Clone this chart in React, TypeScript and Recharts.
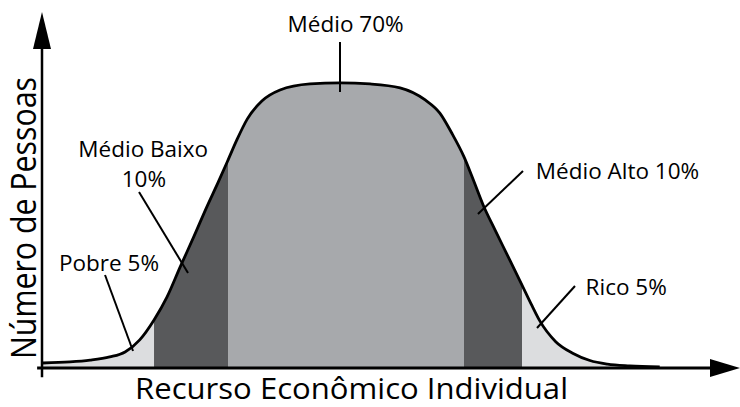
import React from "react";
import {
  ComposedChart,
  Area,
  Line,
  XAxis,
  YAxis,
  ReferenceLine,
  ReferenceDot,
} from "recharts";

// Curve samples: economic resource (x) vs. number of people (y)
const resourceLevel = [
  0.1, 4.0, 6.9, 9.7, 11.9, 14.0, 16.05, 17.9, 19.8, 21.8, 23.6, 25.2, 26.65,
  27.9, 29.4, 31.5, 34.1, 38.4, 42.7, 47.0, 51.3, 54.9, 57.0, 58.7, 60.46,
  61.9, 63.2, 64.9, 66.6, 68.77, 70.2, 71.3, 73.6, 76.1, 78.5, 81.0, 84.2, 88.5,
];
const peopleCount = [
  1.4, 1.7, 2.2, 3.1, 4.5, 7.9, 13.5, 19.9, 28.4, 37.1, 45.2, 52.0, 58.4,
  64.0, 69.9, 75.0, 78.1, 79.8, 80.1, 79.8, 78.7, 75.3, 71.6, 66.0, 59.3,
  52.3, 45.8, 38.8, 32.0, 23.3, 17.5, 13.3, 7.4, 4.1, 2.1, 1.1, 0.6, 0.3,
];
// Class boundaries on the resource axis
const classBounds = [16.05, 26.65, 60.46, 68.77];
const classKeys = ["pobre", "baixo", "medio", "alto", "rico"];
const classColors = ["#dcdddf", "#58595b", "#a7a9ac", "#58595b", "#dcdddf"];

// Annotation texts and anchors (data coordinates)
const labelTexts = ["Médio 70%", "Médio Baixo", "10%", "Pobre 5%", "Médio Alto 10%", "Rico 5%"];
const labelX = [43.5, 14.5, 14.6, 9.6, 82.45, 83.7];
const labelY = [94.4, 59.3, 50.8, 27.25, 53.1, 20.5];
// Leader lines
const leaderX1 = [42.69, 13.9, 9.03, 68.91, 76.36];
const leaderY1 = [91.57, 49.44, 26.12, 55.34, 23.03];
const leaderX2 = [42.69, 20.92, 13.04, 62.46, 70.92];
const leaderY2 = [77.53, 26.69, 4.78, 43.26, 11.24];

const xTitle = "Recurso Econômico Individual";
const yTitle = "Número de Pessoas";

const data = resourceLevel.map((x, i) => {
  const y = peopleCount[i];
  const row: any = { x, y };
  const edges = [-Infinity, ...classBounds, Infinity];
  classKeys.forEach((k, c) => {
    row[k] = x >= edges[c] - 1e-9 && x <= edges[c + 1] + 1e-9 ? y : null;
  });
  return row;
});

const FONT = "'Open Sans', sans-serif";
const INK = "#000";

const ArrowRight = (p: any) => (
  <polygon
    points={`${p.cx},${p.cy} ${p.cx - 30},${p.cy - 9} ${p.cx - 30},${p.cy + 9}`}
    fill={INK}
  />
);
const ArrowUp = (p: any) => (
  <polygon
    points={`${p.cx},${p.cy} ${p.cx - 9},${p.cy + 37} ${p.cx + 9},${p.cy + 37}`}
    fill={INK}
  />
);
const makeText = (t: string) => (p: any) => (
  <text x={p.cx} y={p.cy} textAnchor="middle" fontFamily={FONT} fontSize={22.5} fill={INK}>
    {t}
  </text>
);

const XTitle = (props: any) => {
  const vb = props.viewBox;
  return (
    <text
      x={vb.x + 309.5}
      y={vb.y + 31}
      textAnchor="middle"
      fontFamily={FONT}
      fontSize={30}
      fill={INK}
      textLength={433}
      lengthAdjust="spacingAndGlyphs"
    >
      {xTitle}
    </text>
  );
};
const YTitle = (props: any) => {
  const vb = props.viewBox;
  const x = vb.x + 36;
  const y = vb.y + 206;
  return (
    <text
      x={x}
      y={y}
      transform={`rotate(-90, ${x}, ${y})`}
      textAnchor="middle"
      fontFamily={FONT}
      fontSize={34}
      fill={INK}
      textLength={282}
      lengthAdjust="spacingAndGlyphs"
    >
      {yTitle}
    </text>
  );
};

export default function App() {
  return (
    <div style={{ position: "absolute", left: 0, top: 0, width: 740, height: 407, background: "#fff" }}>
      <ComposedChart
        width={740}
        height={407}
        data={data}
        margin={{ top: 12, right: 0, bottom: 0, left: 0 }}
      >
        <XAxis
          dataKey="x"
          type="number"
          domain={[0, 100]}
          allowDataOverflow
          tick={false}
          tickLine={false}
          axisLine={false}
          height={39}
          label={<XTitle />}
        />
        <YAxis
          type="number"
          domain={[0, 100]}
          allowDataOverflow
          tick={false}
          tickLine={false}
          axisLine={false}
          width={42}
          label={<YTitle />}
        />
        {classKeys.map((k, i) => (
          <Area
            key={k}
            dataKey={k}
            type="monotone"
            stroke="none"
            fill={classColors[i]}
            fillOpacity={1}
            isAnimationActive={false}
            connectNulls={false}
            dot={false}
            activeDot={false}
          />
        ))}
        <Line
          dataKey="y"
          type="monotone"
          stroke={INK}
          strokeWidth={2.8}
          dot={false}
          activeDot={false}
          isAnimationActive={false}
        />
        <ReferenceLine
          segment={[{ x: -0.7, y: 0 }, { x: 96, y: 0 }]}
          stroke={INK}
          strokeWidth={3}
          ifOverflow="visible"
        />
        <ReferenceLine
          segment={[{ x: 0, y: -2.6 }, { x: 0, y: 92 }]}
          stroke={INK}
          strokeWidth={2.5}
          ifOverflow="visible"
        />
        <ReferenceDot x={100} y={0} r={1} shape={ArrowRight} ifOverflow="visible" />
        <ReferenceDot x={0} y={100} r={1} shape={ArrowUp} ifOverflow="visible" />
        {leaderX1.map((x1, i) => (
          <ReferenceLine
            key={"l" + i}
            segment={[{ x: x1, y: leaderY1[i] }, { x: leaderX2[i], y: leaderY2[i] }]}
            stroke={INK}
            strokeWidth={2}
            ifOverflow="visible"
          />
        ))}
        {labelTexts.map((t, i) => (
          <ReferenceDot
            key={"t" + i}
            x={labelX[i]}
            y={labelY[i]}
            r={1}
            shape={makeText(t)}
            ifOverflow="visible"
          />
        ))}
      </ComposedChart>
    </div>
  );
}
